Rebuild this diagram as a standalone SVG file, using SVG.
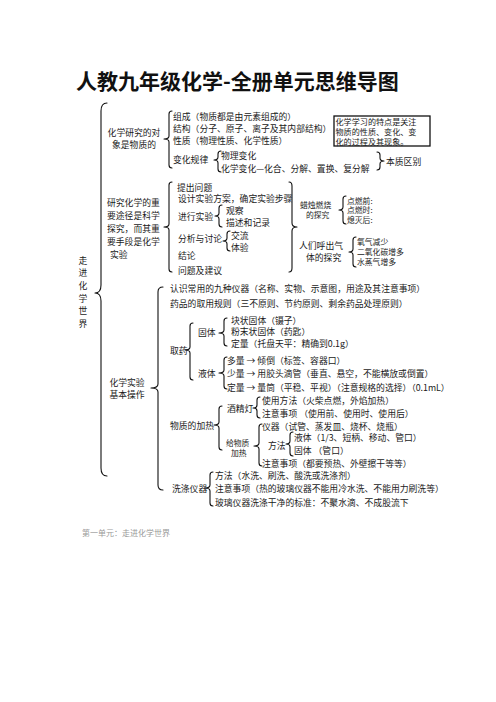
<svg xmlns="http://www.w3.org/2000/svg" width="496" height="702" viewBox="0 0 496 702">
<style>
text{font-family:"Noto Sans CJK SC","Liberation Sans",sans-serif;font-size:8.8px;fill:#1a1a1a;dominant-baseline:central}
.title{font-size:21px;font-weight:bold;fill:#111;dominant-baseline:auto}
.foot{font-size:8px;fill:#9a9a9a}
.mid{text-anchor:middle}
.s{font-size:7.8px}
.br{fill:none;stroke:#111;stroke-width:1.1;stroke-linecap:round;stroke-linejoin:round}
.box{fill:#fff;stroke:#111;stroke-width:1.3}
.bx{font-size:8.1px}
</style>
<rect width="496" height="702" fill="#fff"/>
<text class="title" x="76" y="89">人教九年级化学-全册单元思维导图</text>

<g id="connectors">
<path class="br" d="M107,103 Q101,103 101,111 L101,285 Q101,293 95,293 Q101,293 101,301 L101,468 Q101,476 107,476"/>
<path class="br" d="M172,111 Q169,111 169,114 L169,136 Q169,139 164,139 Q169,139 169,142 L169,165 Q169,168 172,168"/>
<path class="br" d="M221,151 Q218,151 218,154 L218,157 Q218,160 214,160 Q218,160 218,163 L218,169 Q218,172 221,172"/>
<path class="br" d="M377,152 Q380,152 380,155 L380,158 Q380,161 384,161 Q380,161 380,164 L380,167 Q380,170 377,170"/>
<path class="br" d="M172,182 Q169,182 169,185 L169,224 Q169,227 164,227 Q169,227 169,230 L169,269 Q169,272 172,272"/>
<path class="br" d="M222,205 Q219,205 219,208 L219,213 Q219,216 215,216 Q219,216 219,219 L219,224 Q219,227 222,227"/>
<path class="br" d="M230,231 Q227,231 227,234 L227,238 Q227,241 223,241 Q227,241 227,244 L227,248 Q227,251 230,251"/>
<path class="br" d="M289,182 Q292,182 292,186 L292,223 Q292,227 297,227 Q292,227 292,231 L292,268 Q292,272 289,272"/>
<path class="br" d="M346,196 Q343,196 343,199 L343,207 Q343,210 339,210 Q343,210 343,213 L343,221 Q343,224 346,224"/>
<path class="br" d="M356,237 Q353,237 353,240 L353,249 Q353,252 349,252 Q353,252 353,255 L353,264 Q353,267 356,267"/>
<path class="br" d="M163,287 Q158,287 158,292 L158,384 Q158,388 151,388 Q158,388 158,392 L158,485 Q158,490 163,490"/>
<path class="br" d="M193,323 Q190,323 190,326 L190,347 Q190,350 185,350 Q190,350 190,353 L190,377 Q190,380 193,380"/>
<path class="br" d="M227,318 Q224,318 224,321 L224,330 Q224,333 219,333 Q224,333 224,336 L224,343 Q224,346 227,346"/>
<path class="br" d="M227,357 Q224,357 224,360 L224,370 Q224,373 219,373 Q224,373 224,376 L224,386 Q224,389 227,389"/>
<path class="br" d="M222,406 Q219,406 219,409 L219,422 Q219,425 214,425 Q219,425 219,428 L219,447 Q219,450 222,450"/>
<path class="br" d="M260,397 Q257,397 257,400 L257,405 Q257,408 253,408 Q257,408 257,411 L257,415 Q257,418 260,418"/>
<path class="br" d="M262,424 Q259,424 259,427 L259,443 Q259,446 254,446 Q259,446 259,449 L259,463 Q259,466 262,466"/>
<path class="br" d="M293,432 Q290,432 290,435 L290,441 Q290,444 286,444 Q290,444 290,447 L290,453 Q290,456 293,456"/>
<path class="br" d="M213,472 Q210,472 210,475 L210,485 Q210,488 205,488 Q210,488 210,491 L210,503 Q210,506 213,506"/>
</g>

<g id="root">
<text class="mid" x="83" y="260">走</text>
<text class="mid" x="83" y="272">进</text>
<text class="mid" x="83" y="285">化</text>
<text class="mid" x="83" y="298">学</text>
<text class="mid" x="83" y="310">世</text>
<text class="mid" x="83" y="323">界</text>
</g>

<g id="g1">
<text class="mid" x="134" y="132">化学研究的对</text>
<text class="mid" x="134" y="144">象是物质的</text>
</g>
<g id="g1-items">
<text x="173" y="116">组成（物质都是由元素组成的）</text>
<text x="173" y="128">结构（分子、原子、离子及其内部结构）</text>
<text x="173" y="140">性质（物理性质、化学性质）</text>
<text x="173" y="159">变化规律</text>
<text x="221" y="155">物理变化</text>
<text x="221" y="168">化学变化—化合、分解、置换、复分解</text>
<text x="386" y="161">本质区别</text>
</g>
<g id="note">
<rect class="box" x="334" y="116" width="96" height="30"/>
<text class="bx" x="335.5" y="121">化学学习的特点是关注</text>
<text class="bx" x="335.5" y="131">物质的性质、变化、变</text>
<text class="bx" x="335.5" y="141">化的过程及其现象。</text>
</g>

<g id="g2">
<text x="107" y="202">研究化学的重</text>
<text x="107" y="215">要途径是科学</text>
<text x="107" y="228">探究，而其重</text>
<text x="107" y="241">要手段是化学</text>
<text x="110" y="254">实验</text>
</g>
<g id="g2-items">
<text x="177" y="187">提出问题</text>
<text x="178" y="198.5">设计实验方案，确定实验步骤</text>
<text x="178" y="216">进行实验</text>
<text x="226" y="210.5">观察</text>
<text x="226" y="222">描述和记录</text>
<text x="178" y="238">分析与讨论</text>
<text x="231" y="235">交流</text>
<text x="231" y="247">体验</text>
<text x="178" y="255">结论</text>
<text x="178" y="270">问题及建议</text>
</g>
<g id="candle">
<text class="s" x="300" y="204">蜡烛燃烧</text>
<text class="s" x="306" y="214">的探究</text>
<text class="s" x="347" y="200">点燃前:</text>
<text class="s" x="347" y="209.5">点燃时:</text>
<text class="s" x="347" y="219">熄灭后:</text>
</g>
<g id="breath">
<text x="299" y="245">人们呼出气</text>
<text x="306" y="257">体的探究</text>
<text class="s" x="357" y="241">氧气减少</text>
<text class="s" x="357" y="251">二氧化碳增多</text>
<text class="s" x="357" y="261">水蒸气增多</text>
</g>

<g id="g3">
<text class="mid" x="127" y="382">化学实验</text>
<text class="mid" x="127" y="394">基本操作</text>
</g>
<g id="g3-items">
<text x="170" y="288">认识常用的九种仪器（名称、实物、示意图，用途及其注意事项）</text>
<text x="170" y="303">药品的取用规则（三不原则、节约原则、剩余药品处理原则）</text>
</g>
<g id="take">
<text x="170" y="350">取药</text>
<text x="198" y="332">固体</text>
<text x="231" y="320">块状固体（镊子）</text>
<text x="231" y="331.5">粉末状固体（药匙）</text>
<text x="231" y="343">定量（托盘天平：精确到0.1g）</text>
<text x="198" y="373">液体</text>
<text x="227" y="360">多量 → 倾倒（标签、容器口）</text>
<text x="227" y="373">少量 → 用胶头滴管（垂直、悬空，不能横放或倒置）</text>
<text x="227" y="387">定量 → 量筒（平稳、平视）（注意规格的选择）（0.1mL）</text>
</g>
<g id="heat">
<text x="170" y="425">物质的加热</text>
<text x="227" y="408">酒精灯</text>
<text x="262" y="400">使用方法（火柴点燃，外焰加热）</text>
<text x="262" y="413">注意事项 （使用前、使用时、使用后）</text>
<text class="s" x="226" y="442">给物质</text>
<text class="s" x="231" y="452">加热</text>
<text x="262" y="426">仪器（试管、蒸发皿、烧杯、烧瓶）</text>
<text x="268" y="445">方法</text>
<text x="294" y="437.5">液体（1/3、短柄、移动、管口）</text>
<text x="294" y="450">固体 （管口）</text>
<text x="262" y="463">注意事项（都要预热、外壁擦干等等）</text>
</g>
<g id="wash">
<text x="172" y="488">洗涤仪器</text>
<text x="215" y="475">方法（水洗、刷洗、酸洗或洗涤剂）</text>
<text x="215" y="488">注意事项（热的玻璃仪器不能用冷水洗、不能用力刷洗等）</text>
<text x="215" y="502">玻璃仪器洗涤干净的标准：不聚水滴、不成股流下</text>
</g>

<text class="foot" x="82" y="532">第一单元：走进化学世界</text>
</svg>
